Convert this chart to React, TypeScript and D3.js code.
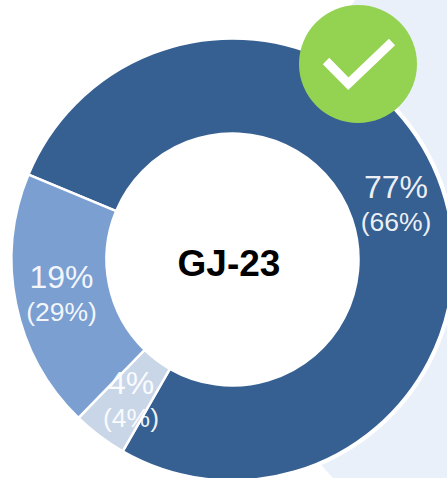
import React from "react";
import * as d3 from "d3";

const segments = ["A", "B", "C"];
const values = [77, 4, 19];
const colors = ["#366092", "#C9D6E8", "#7C9FD2"];
const labelMain = ["77%", "4%", "19%"];
const labelSub = ["(66%)", "(4%)", "(29%)"];
const labelX = [396, 131, 61.5];
const labelY = [198, 394, 288];
const title = "GJ-23";

export default function App() {
  const cx = 232.5, cy = 259.5, R = 221, r = 126;
  const startA = (292.6 * Math.PI) / 180;
  const pie = d3.pie<number>().sort(null).startAngle(startA).endAngle(startA + 2 * Math.PI);
  const arc = d3.arc<d3.PieArcDatum<number>>().innerRadius(r).outerRadius(R);
  const arcs = pie(values);
  const check = d3.line()([[326, 61], [348.3, 83.7], [392, 42]]) as string;
  return (
    <svg width={447} height={478} style={{ position: "fixed", left: 0, top: 0, display: "block" }} fontFamily="'Liberation Sans', Arial, sans-serif">
      <rect width={447} height={478} fill="#fff" />
      <path d="M355,0 L447,0 L447,478 L333,478 L200,330 L270,130 Z" fill="#E9F0FA" />
      <circle cx={cx} cy={cy} r={R + 3} fill="#fff" />
      <g transform={`translate(${cx},${cy})`}>
        {arcs.map((a, i) => (
          <path key={segments[i]} d={arc(a) as string} fill={colors[i]} stroke="#fff" strokeWidth={2.5} />
        ))}
      </g>
      <circle cx={358} cy={64} r={59} fill="#94D251" />
      <path d={check} fill="none" stroke="#fff" strokeWidth={9} />
      {labelMain.map((t, i) => (
        <text key={t} x={labelX[i]} y={labelY[i]} textAnchor="middle" fontSize={32} fill="#fff" fillOpacity={0.92}>{t}</text>
      ))}
      {labelSub.map((t, i) => (
        <text key={t} x={labelX[i]} y={labelY[i] + 33} textAnchor="middle" fontSize={26.5} fill="#fff" fillOpacity={0.92}>{t}</text>
      ))}
      <text x={229} y={276} textAnchor="middle" fontSize={37} fontWeight="bold" fill="#000">{title}</text>
    </svg>
  );
}
